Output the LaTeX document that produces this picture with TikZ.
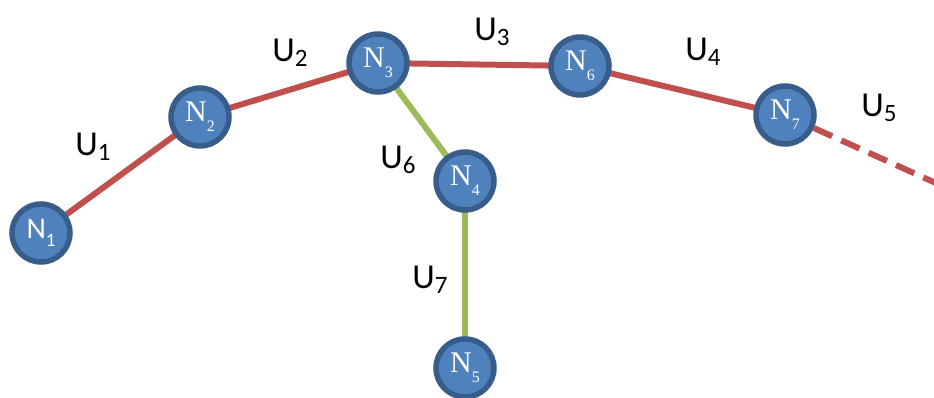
\documentclass[tikz,border=0pt]{standalone}
\usepackage{fontspec}
\setmainfont{Liberation Serif}
\newfontfamily\carl{Carlito}
\usetikzlibrary{backgrounds}
\definecolor{nodeblue}{HTML}{4F81BD}
\definecolor{nodeedge}{HTML}{385D8A}
\definecolor{linkred}{HTML}{C0504D}
\definecolor{linkgreen}{HTML}{9BBB59}
\tikzset{
  netnode/.style={circle, fill=nodeblue, draw=nodeedge, line width=5.5pt, minimum size=58pt, inner sep=0pt, text=white},
  redlink/.style={draw=linkred, line width=6pt},
  greenlink/.style={draw=linkgreen, line width=6pt},
  ulabel/.style={inner sep=0pt, font=\carl\fontsize{35}{35}\selectfont}
}
\newcommand{\nlab}[1]{{\fontsize{30}{30}\selectfont N}\raisebox{-10pt}{\fontsize{16}{16}\selectfont #1}}
\newcommand{\ulab}[1]{U\raisebox{-5pt}{\fontsize{25}{25}\selectfont #1}}
\begin{document}
\begin{tikzpicture}[x=1pt,y=-1pt]
\useasboundingbox (0,0) rectangle (934,398);
\node[netnode] (n1) at (41,233) {\carl{\fontsize{30}{30}\selectfont N}\raisebox{-8pt}{\fontsize{19}{19}\selectfont 1}};
\node[netnode] (n2) at (200,117) {\nlab{2}};
\node[netnode] (n3) at (378,63) {\nlab{3}};
\node[netnode] (n4) at (465,181) {\nlab{4}};
\node[netnode] (n5) at (465,368) {\nlab{5}};
\node[netnode] (n6) at (580,66) {\nlab{6}};
\node[netnode] (n7) at (785,115) {\nlab{7}};
\coordinate (end) at (938,184);
\begin{scope}[on background layer]
\draw[redlink] (n1.center) -- (n2.center);
\draw[redlink] (n2.center) -- (n3.center);
\draw[redlink] (n3.center) -- (n6.center);
\draw[redlink] (n6.center) -- (n7.center);
\draw[redlink, dash pattern=on 20pt off 10pt] (n7) -- (end);
\draw[greenlink] (n3.center) -- (n4.center);
\draw[greenlink] (n4.center) -- (n5.center);
\end{scope}
\node[ulabel] (u1) at (93,147) {\ulab{1}};
\node[ulabel] (u2) at (290,53) {\ulab{2}};
\node[ulabel] (u3) at (492,32) {\ulab{3}};
\node[ulabel] (u4) at (703,52) {\ulab{4}};
\node[ulabel] (u5) at (879,108) {\ulab{5}};
\node[ulabel] (u6) at (398,160) {\ulab{6}};
\node[ulabel] (u7) at (430,280) {\ulab{7}};
\end{tikzpicture}
\end{document}
